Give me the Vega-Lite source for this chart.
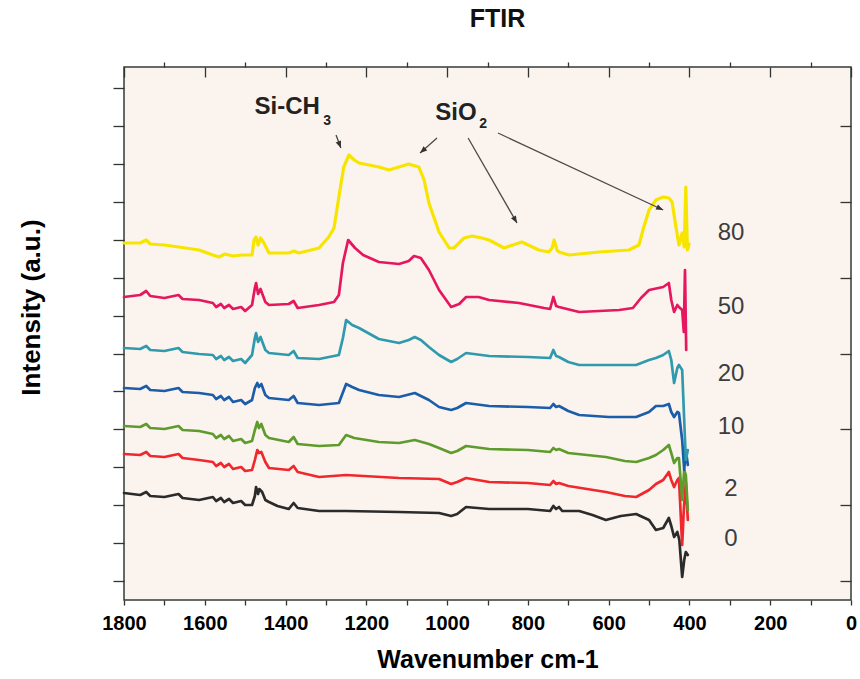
{
"$schema": "https://vega.github.io/schema/vega-lite/v6.json",
"width": 727, "height": 533,
"autosize": "none",
"padding": {"left": 124, "top": 67, "right": 9, "bottom": 79},
"background": "white",
"title": {"text": "FTIR", "font": "Liberation Sans", "fontSize": 25, "fontWeight": "bold", "color": "#111", "anchor": "middle", "offset": 29, "dx": 10},
"config": {
  "view": {"fill": "#fbf4ee", "stroke": "#333b37", "strokeWidth": 1.5},
  "axis": {"grid": false, "domain": false, "tickColor": "#333", "tickWidth": 1.3},
  "font": "Liberation Sans"
},
"datasets": {
"spectra": [
{"series":"0","wn":1800,"y":107},{"series":"0","wn":1760,"y":105},{"series":"0","wn":1745,"y":108},{"series":"0","wn":1735,"y":104},{"series":"0","wn":1700,"y":103},{"series":"0","wn":1665,"y":106},{"series":"0","wn":1655,"y":102},{"series":"0","wn":1614,"y":100},{"series":"0","wn":1580,"y":103},{"series":"0","wn":1572,"y":99},{"series":"0","wn":1560,"y":102},{"series":"0","wn":1552,"y":98},{"series":"0","wn":1540,"y":101},{"series":"0","wn":1530,"y":97},{"series":"0","wn":1510,"y":99},{"series":"0","wn":1500,"y":95},{"series":"0","wn":1483,"y":95},{"series":"0","wn":1476,"y":104},{"series":"0","wn":1473,"y":113},{"series":"0","wn":1468,"y":106},{"series":"0","wn":1465,"y":111},{"series":"0","wn":1458,"y":108},{"series":"0","wn":1450,"y":100},{"series":"0","wn":1441,"y":98},{"series":"0","wn":1420,"y":94},{"series":"0","wn":1392,"y":91},{"series":"0","wn":1380,"y":97},{"series":"0","wn":1370,"y":92},{"series":"0","wn":1317,"y":89},{"series":"0","wn":1250,"y":89},{"series":"0","wn":1119,"y":88},{"series":"0","wn":1020,"y":87},{"series":"0","wn":990,"y":84},{"series":"0","wn":975,"y":86},{"series":"0","wn":953,"y":93},{"series":"0","wn":896,"y":91},{"series":"0","wn":800,"y":91},{"series":"0","wn":745,"y":89},{"series":"0","wn":737,"y":94},{"series":"0","wn":730,"y":91},{"series":"0","wn":723,"y":93},{"series":"0","wn":715,"y":89},{"series":"0","wn":673,"y":89},{"series":"0","wn":640,"y":85},{"series":"0","wn":607,"y":80},{"series":"0","wn":570,"y":84},{"series":"0","wn":532,"y":86},{"series":"0","wn":500,"y":80},{"series":"0","wn":483,"y":70},{"series":"0","wn":465,"y":72},{"series":"0","wn":451,"y":82},{"series":"0","wn":445,"y":74},{"series":"0","wn":438,"y":63},{"series":"0","wn":430,"y":68},{"series":"0","wn":425,"y":60},{"series":"0","wn":418,"y":23},{"series":"0","wn":413,"y":40},{"series":"0","wn":409,"y":48},{"series":"0","wn":404,"y":45},

{"series":"2","wn":1800,"y":146},{"series":"2","wn":1760,"y":145},{"series":"2","wn":1745,"y":148},{"series":"2","wn":1735,"y":144},{"series":"2","wn":1700,"y":143},{"series":"2","wn":1665,"y":146},{"series":"2","wn":1655,"y":142},{"series":"2","wn":1614,"y":140},{"series":"2","wn":1580,"y":138},{"series":"2","wn":1572,"y":134},{"series":"2","wn":1560,"y":137},{"series":"2","wn":1552,"y":133},{"series":"2","wn":1540,"y":136},{"series":"2","wn":1530,"y":131},{"series":"2","wn":1510,"y":133},{"series":"2","wn":1500,"y":129},{"series":"2","wn":1483,"y":130},{"series":"2","wn":1476,"y":140},{"series":"2","wn":1470,"y":150},{"series":"2","wn":1466,"y":147},{"series":"2","wn":1460,"y":148},{"series":"2","wn":1450,"y":138},{"series":"2","wn":1441,"y":132},{"series":"2","wn":1392,"y":130},{"series":"2","wn":1380,"y":134},{"series":"2","wn":1370,"y":128},{"series":"2","wn":1317,"y":123},{"series":"2","wn":1250,"y":125},{"series":"2","wn":1119,"y":122},{"series":"2","wn":1020,"y":121},{"series":"2","wn":990,"y":116},{"series":"2","wn":975,"y":118},{"series":"2","wn":953,"y":122},{"series":"2","wn":896,"y":118},{"series":"2","wn":800,"y":117},{"series":"2","wn":745,"y":115},{"series":"2","wn":737,"y":119},{"series":"2","wn":730,"y":116},{"series":"2","wn":723,"y":117},{"series":"2","wn":700,"y":114},{"series":"2","wn":607,"y":108},{"series":"2","wn":560,"y":104},{"series":"2","wn":532,"y":103},{"series":"2","wn":500,"y":110},{"series":"2","wn":483,"y":116},{"series":"2","wn":465,"y":120},{"series":"2","wn":451,"y":128},{"series":"2","wn":445,"y":120},{"series":"2","wn":438,"y":113},{"series":"2","wn":430,"y":120},{"series":"2","wn":426,"y":122},{"series":"2","wn":418,"y":55},{"series":"2","wn":414,"y":90},{"series":"2","wn":409,"y":118},{"series":"2","wn":404,"y":80},

{"series":"5","wn":1800,"y":174},{"series":"5","wn":1760,"y":173},{"series":"5","wn":1745,"y":176},{"series":"5","wn":1735,"y":172},{"series":"5","wn":1700,"y":171},{"series":"5","wn":1665,"y":174},{"series":"5","wn":1655,"y":170},{"series":"5","wn":1614,"y":169},{"series":"5","wn":1580,"y":166},{"series":"5","wn":1572,"y":162},{"series":"5","wn":1560,"y":165},{"series":"5","wn":1552,"y":161},{"series":"5","wn":1540,"y":164},{"series":"5","wn":1530,"y":159},{"series":"5","wn":1510,"y":161},{"series":"5","wn":1500,"y":157},{"series":"5","wn":1483,"y":159},{"series":"5","wn":1476,"y":170},{"series":"5","wn":1470,"y":178},{"series":"5","wn":1466,"y":172},{"series":"5","wn":1460,"y":176},{"series":"5","wn":1450,"y":165},{"series":"5","wn":1441,"y":162},{"series":"5","wn":1392,"y":158},{"series":"5","wn":1380,"y":163},{"series":"5","wn":1370,"y":156},{"series":"5","wn":1317,"y":154},{"series":"5","wn":1268,"y":155},{"series":"5","wn":1250,"y":165},{"series":"5","wn":1230,"y":162},{"series":"5","wn":1169,"y":158},{"series":"5","wn":1119,"y":157},{"series":"5","wn":1080,"y":160},{"series":"5","wn":1045,"y":156},{"series":"5","wn":1020,"y":152},{"series":"5","wn":990,"y":147},{"series":"5","wn":975,"y":149},{"series":"5","wn":953,"y":154},{"series":"5","wn":896,"y":151},{"series":"5","wn":800,"y":150},{"series":"5","wn":745,"y":148},{"series":"5","wn":737,"y":152},{"series":"5","wn":730,"y":150},{"series":"5","wn":723,"y":151},{"series":"5","wn":700,"y":147},{"series":"5","wn":607,"y":143},{"series":"5","wn":560,"y":139},{"series":"5","wn":532,"y":138},{"series":"5","wn":500,"y":142},{"series":"5","wn":483,"y":145},{"series":"5","wn":465,"y":150},{"series":"5","wn":451,"y":155},{"series":"5","wn":445,"y":147},{"series":"5","wn":438,"y":137},{"series":"5","wn":430,"y":142},{"series":"5","wn":426,"y":142},{"series":"5","wn":418,"y":100},{"series":"5","wn":413,"y":130},{"series":"5","wn":409,"y":125},{"series":"5","wn":404,"y":90},

{"series":"10","wn":1800,"y":212},{"series":"10","wn":1760,"y":211},{"series":"10","wn":1745,"y":214},{"series":"10","wn":1735,"y":210},{"series":"10","wn":1700,"y":209},{"series":"10","wn":1665,"y":212},{"series":"10","wn":1655,"y":208},{"series":"10","wn":1614,"y":207},{"series":"10","wn":1580,"y":205},{"series":"10","wn":1572,"y":201},{"series":"10","wn":1560,"y":204},{"series":"10","wn":1552,"y":200},{"series":"10","wn":1540,"y":203},{"series":"10","wn":1530,"y":198},{"series":"10","wn":1510,"y":200},{"series":"10","wn":1500,"y":196},{"series":"10","wn":1483,"y":200},{"series":"10","wn":1476,"y":212},{"series":"10","wn":1470,"y":217},{"series":"10","wn":1466,"y":213},{"series":"10","wn":1460,"y":216},{"series":"10","wn":1450,"y":205},{"series":"10","wn":1441,"y":202},{"series":"10","wn":1392,"y":200},{"series":"10","wn":1380,"y":204},{"series":"10","wn":1370,"y":197},{"series":"10","wn":1317,"y":195},{"series":"10","wn":1268,"y":197},{"series":"10","wn":1250,"y":216},{"series":"10","wn":1235,"y":213},{"series":"10","wn":1218,"y":210},{"series":"10","wn":1169,"y":205},{"series":"10","wn":1119,"y":203},{"series":"10","wn":1080,"y":207},{"series":"10","wn":1045,"y":200},{"series":"10","wn":1020,"y":193},{"series":"10","wn":990,"y":190},{"series":"10","wn":975,"y":192},{"series":"10","wn":953,"y":197},{"series":"10","wn":896,"y":194},{"series":"10","wn":800,"y":193},{"series":"10","wn":745,"y":192},{"series":"10","wn":737,"y":196},{"series":"10","wn":730,"y":193},{"series":"10","wn":723,"y":194},{"series":"10","wn":700,"y":189},{"series":"10","wn":673,"y":185},{"series":"10","wn":600,"y":183},{"series":"10","wn":532,"y":183},{"series":"10","wn":500,"y":188},{"series":"10","wn":483,"y":194},{"series":"10","wn":465,"y":194},{"series":"10","wn":451,"y":196},{"series":"10","wn":445,"y":188},{"series":"10","wn":438,"y":183},{"series":"10","wn":430,"y":188},{"series":"10","wn":426,"y":187},{"series":"10","wn":418,"y":160},{"series":"10","wn":413,"y":130},{"series":"10","wn":409,"y":150},{"series":"10","wn":404,"y":135},

{"series":"20","wn":1800,"y":252},{"series":"20","wn":1760,"y":251},{"series":"20","wn":1745,"y":254},{"series":"20","wn":1735,"y":250},{"series":"20","wn":1700,"y":249},{"series":"20","wn":1665,"y":252},{"series":"20","wn":1655,"y":248},{"series":"20","wn":1614,"y":246},{"series":"20","wn":1580,"y":245},{"series":"20","wn":1572,"y":241},{"series":"20","wn":1560,"y":244},{"series":"20","wn":1552,"y":240},{"series":"20","wn":1540,"y":243},{"series":"20","wn":1530,"y":239},{"series":"20","wn":1510,"y":241},{"series":"20","wn":1500,"y":237},{"series":"20","wn":1483,"y":245},{"series":"20","wn":1476,"y":262},{"series":"20","wn":1473,"y":267},{"series":"20","wn":1468,"y":258},{"series":"20","wn":1462,"y":263},{"series":"20","wn":1450,"y":250},{"series":"20","wn":1441,"y":247},{"series":"20","wn":1392,"y":245},{"series":"20","wn":1380,"y":249},{"series":"20","wn":1370,"y":242},{"series":"20","wn":1317,"y":241},{"series":"20","wn":1268,"y":245},{"series":"20","wn":1258,"y":262},{"series":"20","wn":1250,"y":280},{"series":"20","wn":1235,"y":275},{"series":"20","wn":1218,"y":272},{"series":"20","wn":1169,"y":261},{"series":"20","wn":1119,"y":257},{"series":"20","wn":1095,"y":260},{"series":"20","wn":1080,"y":263},{"series":"20","wn":1065,"y":260},{"series":"20","wn":1045,"y":253},{"series":"20","wn":1020,"y":245},{"series":"20","wn":990,"y":238},{"series":"20","wn":975,"y":241},{"series":"20","wn":953,"y":247},{"series":"20","wn":896,"y":244},{"series":"20","wn":800,"y":243},{"series":"20","wn":745,"y":242},{"series":"20","wn":737,"y":250},{"series":"20","wn":730,"y":244},{"series":"20","wn":723,"y":243},{"series":"20","wn":700,"y":238},{"series":"20","wn":673,"y":235},{"series":"20","wn":574,"y":235},{"series":"20","wn":532,"y":235},{"series":"20","wn":500,"y":240},{"series":"20","wn":483,"y":242},{"series":"20","wn":465,"y":245},{"series":"20","wn":451,"y":249},{"series":"20","wn":445,"y":240},{"series":"20","wn":438,"y":217},{"series":"20","wn":430,"y":232},{"series":"20","wn":426,"y":235},{"series":"20","wn":418,"y":230},{"series":"20","wn":413,"y":180},{"series":"20","wn":409,"y":140},{"series":"20","wn":404,"y":150},

{"series":"50","wn":1800,"y":303},{"series":"50","wn":1760,"y":305},{"series":"50","wn":1745,"y":309},{"series":"50","wn":1735,"y":304},{"series":"50","wn":1700,"y":302},{"series":"50","wn":1665,"y":305},{"series":"50","wn":1655,"y":301},{"series":"50","wn":1614,"y":300},{"series":"50","wn":1580,"y":297},{"series":"50","wn":1572,"y":293},{"series":"50","wn":1560,"y":296},{"series":"50","wn":1552,"y":292},{"series":"50","wn":1540,"y":295},{"series":"50","wn":1530,"y":291},{"series":"50","wn":1510,"y":293},{"series":"50","wn":1500,"y":289},{"series":"50","wn":1483,"y":295},{"series":"50","wn":1476,"y":312},{"series":"50","wn":1473,"y":317},{"series":"50","wn":1468,"y":306},{"series":"50","wn":1462,"y":311},{"series":"50","wn":1450,"y":298},{"series":"50","wn":1441,"y":295},{"series":"50","wn":1392,"y":296},{"series":"50","wn":1380,"y":299},{"series":"50","wn":1370,"y":292},{"series":"50","wn":1317,"y":295},{"series":"50","wn":1280,"y":298},{"series":"50","wn":1268,"y":305},{"series":"50","wn":1258,"y":337},{"series":"50","wn":1245,"y":360},{"series":"50","wn":1228,"y":352},{"series":"50","wn":1208,"y":345},{"series":"50","wn":1169,"y":338},{"series":"50","wn":1119,"y":336},{"series":"50","wn":1095,"y":339},{"series":"50","wn":1082,"y":344},{"series":"50","wn":1065,"y":342},{"series":"50","wn":1045,"y":330},{"series":"50","wn":1020,"y":310},{"series":"50","wn":990,"y":293},{"series":"50","wn":970,"y":296},{"series":"50","wn":953,"y":303},{"series":"50","wn":922,"y":303},{"series":"50","wn":896,"y":300},{"series":"50","wn":822,"y":297},{"series":"50","wn":760,"y":292},{"series":"50","wn":745,"y":291},{"series":"50","wn":737,"y":303},{"series":"50","wn":730,"y":294},{"series":"50","wn":723,"y":293},{"series":"50","wn":673,"y":288},{"series":"50","wn":574,"y":290},{"series":"50","wn":540,"y":292},{"series":"50","wn":520,"y":302},{"series":"50","wn":500,"y":310},{"series":"50","wn":465,"y":313},{"series":"50","wn":451,"y":317},{"series":"50","wn":445,"y":300},{"series":"50","wn":438,"y":288},{"series":"50","wn":430,"y":295},{"series":"50","wn":426,"y":293},{"series":"50","wn":418,"y":290},{"series":"50","wn":414,"y":268},{"series":"50","wn":411,"y":330},{"series":"50","wn":408,"y":250},

{"series":"80","wn":1800,"y":357},{"series":"80","wn":1760,"y":357},{"series":"80","wn":1745,"y":360},{"series":"80","wn":1735,"y":356},{"series":"80","wn":1700,"y":355},{"series":"80","wn":1665,"y":353},{"series":"80","wn":1614,"y":350},{"series":"80","wn":1580,"y":345},{"series":"80","wn":1565,"y":343},{"series":"80","wn":1550,"y":346},{"series":"80","wn":1530,"y":344},{"series":"80","wn":1508,"y":345},{"series":"80","wn":1483,"y":345},{"series":"80","wn":1478,"y":360},{"series":"80","wn":1473,"y":363},{"series":"80","wn":1468,"y":355},{"series":"80","wn":1462,"y":362},{"series":"80","wn":1455,"y":358},{"series":"80","wn":1441,"y":347},{"series":"80","wn":1392,"y":347},{"series":"80","wn":1379,"y":349},{"series":"80","wn":1367,"y":347},{"series":"80","wn":1317,"y":352},{"series":"80","wn":1293,"y":363},{"series":"80","wn":1280,"y":372},{"series":"80","wn":1268,"y":403},{"series":"80","wn":1256,"y":433},{"series":"80","wn":1243,"y":445},{"series":"80","wn":1230,"y":440},{"series":"80","wn":1218,"y":437},{"series":"80","wn":1169,"y":433},{"series":"80","wn":1144,"y":430},{"series":"80","wn":1095,"y":436},{"series":"80","wn":1070,"y":433},{"series":"80","wn":1057,"y":420},{"series":"80","wn":1045,"y":397},{"series":"80","wn":1020,"y":368},{"series":"80","wn":995,"y":352},{"series":"80","wn":983,"y":352},{"series":"80","wn":958,"y":362},{"series":"80","wn":938,"y":364},{"series":"80","wn":914,"y":362},{"series":"80","wn":896,"y":360},{"series":"80","wn":859,"y":352},{"series":"80","wn":815,"y":358},{"series":"80","wn":773,"y":350},{"series":"80","wn":748,"y":348},{"series":"80","wn":740,"y":352},{"series":"80","wn":735,"y":360},{"series":"80","wn":728,"y":350},{"series":"80","wn":723,"y":348},{"series":"80","wn":698,"y":345},{"series":"80","wn":624,"y":348},{"series":"80","wn":550,"y":350},{"series":"80","wn":525,"y":355},{"series":"80","wn":513,"y":373},{"series":"80","wn":500,"y":390},{"series":"80","wn":483,"y":400},{"series":"80","wn":465,"y":403},{"series":"80","wn":451,"y":402},{"series":"80","wn":443,"y":398},{"series":"80","wn":433,"y":372},{"series":"80","wn":426,"y":355},{"series":"80","wn":418,"y":367},{"series":"80","wn":413,"y":353},{"series":"80","wn":409,"y":413},{"series":"80","wn":405,"y":350},{"series":"80","wn":401,"y":356}
],
"labels": [
{"wn":297,"y":367,"text":"80"},{"wn":297,"y":293,"text":"50"},{"wn":297,"y":226,"text":"20"},{"wn":297,"y":173,"text":"10"},{"wn":297,"y":111,"text":"2"},{"wn":297,"y":61,"text":"0"}
],
"annotations": [
{"wn":1396,"y":493,"text":"Si-CH"},{"wn":978,"y":487,"text":"SiO"}
],
"subscripts": [
{"wn":1297,"y":479,"text":"3"},{"wn":911,"y":476,"text":"2"}
],
"arrows": [
{"id":"a1","wn":1275,"y":465,"wn2":1263,"y2":452},
{"id":"a2","wn":1025,"y":462,"wn2":1067,"y2":447},
{"id":"a3","wn":948,"y":462,"wn2":827,"y2":377},
{"id":"a4","wn":874,"y":467,"wn2":465,"y2":390}
]
},
"layer": [
{
  "data": {"name": "spectra"},
  "mark": {"type": "line", "strokeJoin": "round", "strokeCap": "round"},
  "encoding": {
    "x": {"field": "wn", "type": "quantitative", "scale": {"domain": [0, 1800], "reverse": true, "nice": false, "zero": false},
      "axis": {"orient": "bottom", "values": [0,100,200,300,400,500,600,700,800,900,1000,1100,1200,1300,1400,1500,1600,1700,1800],
        "labelExpr": "datum.value % 200 === 0 ? '' + datum.value : ''", "labelFont": "Liberation Sans", "labelFontWeight": "bold", "labelFontSize": 20, "labelColor": "#000", "labelPadding": 8, "labelFlush": false, "labelOverlap": false,
        "tickSize": 5, "title": "Wavenumber cm-1", "titleFont": "Liberation Sans", "titleFontSize": 25, "titleFontWeight": "bold", "titleColor": "#000", "titlePadding": 14}},
    "y": {"field": "y", "type": "quantitative", "scale": {"domain": [0, 533], "nice": false, "zero": false},
      "axis": {"orient": "left", "values": [19,57,95,133,171,209,246,284,322,360,398,436,474,512], "labels": false, "tickSize": 11,
        "title": "Intensity (a.u.)", "titleFont": "Liberation Sans", "titleFontSize": 26, "titleFontWeight": "bold", "titleColor": "#000", "titlePadding": 68, "titleY": 240}},
    "color": {"field": "series", "type": "nominal", "legend": null,
      "scale": {"domain": ["0","2","5","10","20","50","80"], "range": ["#2b2b2b","#f0282d","#5f9b2c","#1c5daa","#2f9aae","#e5175e","#f7e500"]}},
    "strokeWidth": {"condition": {"test": "datum.series === '80'", "value": 3.2}, "value": 2.7}
  }
},
{
  "data": {"name": "labels"},
  "mark": {"type": "text", "font": "Liberation Sans", "fontSize": 24, "color": "#3d3d3d", "align": "center", "baseline": "middle"},
  "encoding": {
    "x": {"field": "wn", "type": "quantitative",
      "axis": {"orient": "top", "values": [0,100,200,300,400,500,600,700,800,900,1000,1100,1200,1300,1400,1500,1600,1700,1800], "labels": false, "title": null,
        "tickSize": {"condition": {"test": "datum.value % 200 === 0", "value": -10}, "value": 5}}},
    "y": {"field": "y", "type": "quantitative",
      "axis": {"orient": "right", "values": [19,95,171,246,322,398,474], "labels": false, "title": null, "tickSize": -11}},
    "text": {"field": "text"}
  }
},
{
  "data": {"name": "annotations"},
  "mark": {"type": "text", "font": "Liberation Sans", "fontSize": 24, "fontWeight": "bold", "color": "#222", "align": "center", "baseline": "middle"},
  "encoding": {
    "x": {"field": "wn", "type": "quantitative", "axis": null},
    "y": {"field": "y", "type": "quantitative", "axis": null},
    "text": {"field": "text"}
  }
},
{
  "data": {"name": "subscripts"},
  "mark": {"type": "text", "font": "Liberation Sans", "fontSize": 14, "fontWeight": "bold", "color": "#222", "align": "center", "baseline": "middle"},
  "encoding": {
    "x": {"field": "wn", "type": "quantitative", "axis": null},
    "y": {"field": "y", "type": "quantitative", "axis": null},
    "text": {"field": "text"}
  }
},
{
  "data": {"name": "arrows"},
  "mark": {"type": "rule", "color": "#4a4a4a", "strokeWidth": 1.3},
  "encoding": {
    "x": {"field": "wn", "type": "quantitative", "axis": null},
    "y": {"field": "y", "type": "quantitative", "axis": null},
    "x2": {"field": "wn2"},
    "y2": {"field": "y2"}
  }
},
{
  "data": {"name": "arrows"},
  "transform": [{"filter": "datum.id === 'a1'"}],
  "mark": {"type": "point", "shape": "M0,0L0.4,1L-0.4,1Z", "filled": true, "color": "#333", "opacity": 1, "size": 200, "angle": 159},
  "encoding": {"x": {"field": "wn2", "type": "quantitative", "axis": null}, "y": {"field": "y2", "type": "quantitative", "axis": null}}
},
{
  "data": {"name": "arrows"},
  "transform": [{"filter": "datum.id === 'a2'"}],
  "mark": {"type": "point", "shape": "M0,0L0.4,1L-0.4,1Z", "filled": true, "color": "#333", "opacity": 1, "size": 200, "angle": 229},
  "encoding": {"x": {"field": "wn2", "type": "quantitative", "axis": null}, "y": {"field": "y2", "type": "quantitative", "axis": null}}
},
{
  "data": {"name": "arrows"},
  "transform": [{"filter": "datum.id === 'a3'"}],
  "mark": {"type": "point", "shape": "M0,0L0.4,1L-0.4,1Z", "filled": true, "color": "#333", "opacity": 1, "size": 200, "angle": 150},
  "encoding": {"x": {"field": "wn2", "type": "quantitative", "axis": null}, "y": {"field": "y2", "type": "quantitative", "axis": null}}
},
{
  "data": {"name": "arrows"},
  "transform": [{"filter": "datum.id === 'a4'"}],
  "mark": {"type": "point", "shape": "M0,0L0.4,1L-0.4,1Z", "filled": true, "color": "#333", "opacity": 1, "size": 200, "angle": 115},
  "encoding": {"x": {"field": "wn2", "type": "quantitative", "axis": null}, "y": {"field": "y2", "type": "quantitative", "axis": null}}
}
],
"resolve": {"axis": {"x": "independent", "y": "independent"}}
}
